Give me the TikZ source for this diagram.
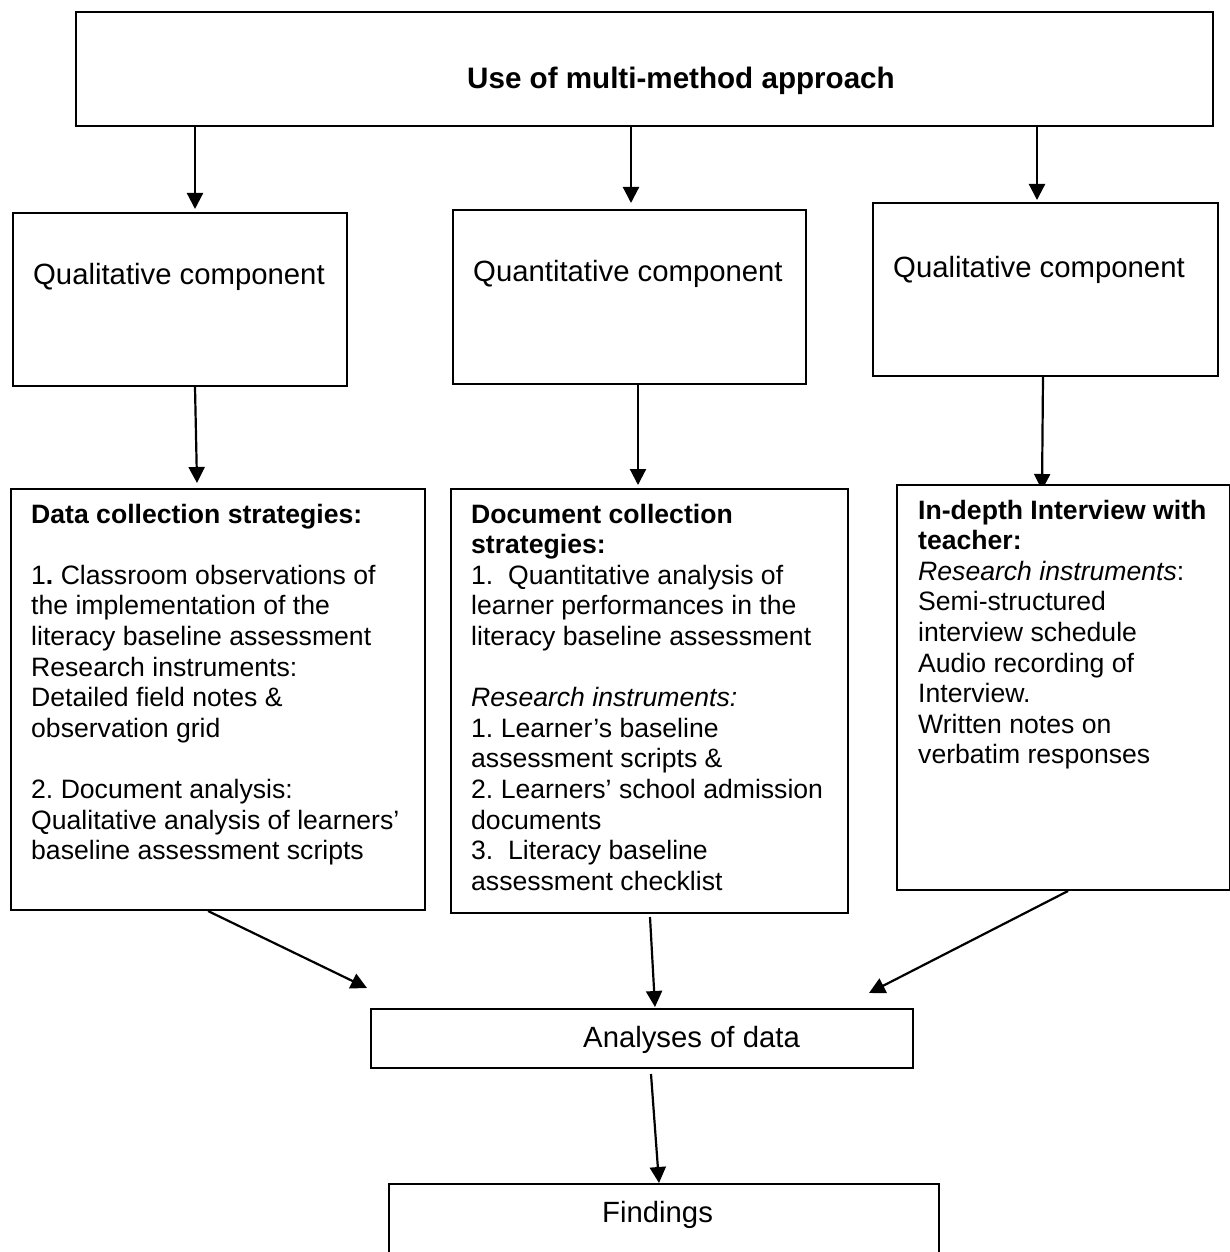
\documentclass[tikz,border=0pt]{standalone}
\usepackage{fontspec}
\setmainfont{Liberation Sans}
\usetikzlibrary{arrows.meta,backgrounds}
\newcommand\mylines[1]{\begin{tabular}[t]{@{}l@{}}#1\end{tabular}}
\frenchspacing
\begin{document}
\frenchspacing
\begin{tikzpicture}[x=1pt,y=-1pt,
  box/.style={draw, line width=2pt, fill=white, inner sep=0pt, anchor=north west},
  txt/.style={inner sep=0pt, anchor=base west, font=\fontsize{26.6pt}{30.6pt}\selectfont},
  big/.style={inner sep=0pt, anchor=base west, font=\fontsize{29.3pt}{33.7pt}\selectfont},
  arr/.style={line width=2.2pt, -{Triangle[width=16pt,length=16pt]}}]
\useasboundingbox (0,0) rectangle (1230,1252);
\clip (0,0) rectangle (1230,1252);

% boxes
\node[box, minimum width=1137pt, minimum height=114pt] (top) at (75,11) {};
\node[box, minimum width=334pt, minimum height=173pt] (qual1) at (12,212) {};
\node[box, minimum width=353pt, minimum height=174pt] (quant) at (452,209) {};
\node[box, minimum width=345pt, minimum height=173pt] (qual2) at (872,202) {};
\node[box, minimum width=414pt, minimum height=421pt] (data1) at (10,488) {};
\node[box, minimum width=397pt, minimum height=424pt] (data2) at (450,488) {};
\node[box, minimum width=333pt, minimum height=405pt] (data3) at (896,484) {};
\node[box, minimum width=542pt, minimum height=59pt] (analyses) at (370,1008) {};
\node[box, minimum width=550pt, minimum height=117pt] (findings) at (388,1183) {};

% texts
\node[big, font=\fontsize{29.6pt}{34pt}\selectfont\bfseries] (ttop) at (467,89) {Use of multi-method approach};
\node[big] (tqual1) at (33,284) {Qualitative component};
\node[big] (tquant) at (473,281) {Quantitative component};
\node[big] (tqual2) at (893,277) {Qualitative component};
\node[big] (tanalyses) at (583,1047) {Analyses of data};
\node[big] (tfindings) at (602,1222) {Findings};

\node[txt] (tdata1) at (31,523) {\mylines{%
\textbf{Data collection strategies:}\\
\\
1\textbf{.} Classroom observations of\\
the implementation of the\\
literacy baseline assessment\\
Research instruments:\\
Detailed field notes \&\\
observation grid\\
\\
2. Document analysis:\\
Qualitative analysis of learners’\\
baseline assessment scripts}};

\node[txt] (tdata2) at (471,523) {\mylines{%
\textbf{Document collection}\\
\textbf{strategies:}\\
1.\ \ Quantitative analysis of\\
learner performances in the\\
literacy baseline assessment\\
\\
\textit{Research instruments:}\\
1. Learner’s baseline\\
assessment scripts \&\\
2. Learners’ school admission\\
documents\\
3.\ \ Literacy baseline\\
assessment checklist}};

\node[txt] (tdata3) at (918,519) {\mylines{%
\textbf{In-depth Interview with}\\
\textbf{teacher:}\\
\textit{Research instruments}:\\
Semi-structured\\
interview schedule\\
Audio recording of\\
Interview.\\
Written notes on\\
verbatim responses}};

% connectors
\begin{scope}[on background layer]
\draw[arr] ([xshift=-449.5pt]top.south) -- ([xshift=15pt,yshift=3pt]qual1.north);
\draw[arr] ([xshift=-13.5pt]top.south) -- ([xshift=1.5pt,yshift=6pt]quant.north);
\draw[arr] ([xshift=392.5pt]top.south) -- ([xshift=-8.5pt,yshift=2pt]qual2.north);
\draw[arr] ([xshift=15pt]qual1.south) -- ([xshift=-21pt,yshift=5pt]data1.north);
\draw[arr] ([xshift=8.5pt]quant.south) -- ([xshift=-11.5pt,yshift=3pt]data2.north);
\draw[arr] ([xshift=-2.5pt]qual2.south) -- ([xshift=-21.5pt,yshift=-6pt]data3.north);
\draw[arr] ([xshift=-10pt]data1.south) -- ([xshift=-3pt,yshift=20pt]analyses.north west);
\draw[arr] ([xshift=0.5pt,yshift=-3pt]data2.south) -- ([xshift=13pt,yshift=1pt]analyses.north);
\draw[arr] ([xshift=4.5pt]data3.south) -- ([xshift=-45pt,yshift=15pt]analyses.north east);
\draw[arr] ([xshift=9pt,yshift=-5pt]analyses.south) -- ([xshift=-5pt]findings.north);
\end{scope}
\end{tikzpicture}
\end{document}
